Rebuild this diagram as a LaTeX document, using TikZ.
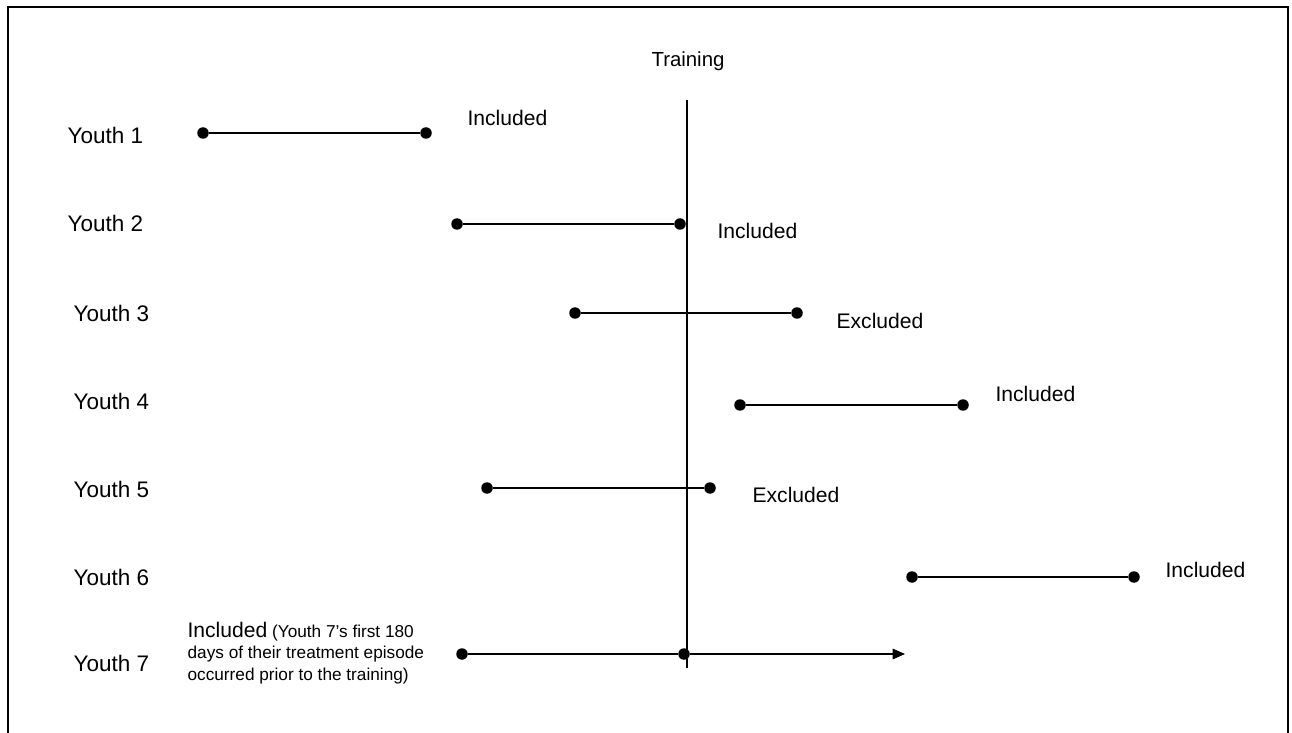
\documentclass[tikz,border=0pt]{standalone}
\usepackage{fontspec}
\setmainfont{Liberation Sans}
\usetikzlibrary{arrows.meta}
\tikzset{
  dot/.style={circle,fill=black,inner sep=0pt,minimum size=0.23cm},
  youth/.style={anchor=base west,inner sep=0pt,font=\fontsize{12.8}{15}\selectfont},
  verdict/.style={anchor=base west,inner sep=0pt,font=\fontsize{12}{14}\selectfont},
}
\begin{document}
\begin{tikzpicture}[x=0.02cm,y=-0.02cm,line width=0.7pt]
      \useasboundingbox (0,0) rectangle (1292,733);
      \draw[line width=1.2pt] (8,733) -- (8,7) -- (1288,7) -- (1288,733);
      % training line
      \node[anchor=base,inner sep=0pt,font=\fontsize{11.6}{14}\selectfont] (training) at (688,67) {Training};
      \coordinate (ttop) at (687,100);
      \coordinate (tbot) at (687,668);
      \draw (ttop) -- (tbot);
      % youth 1
      \node[youth] (y1) at (67,144) {Youth 1};
      \node[dot] (s1) at (203,133) {};
      \node[dot] (e1) at (426,133) {};
      \draw (s1) -- (e1);
      \node[verdict] (v1) at (467,126) {Included};
      % youth 2
      \node[youth] (y2) at (67,232) {Youth 2};
      \node[dot] (s2) at (457,224) {};
      \node[dot] (e2) at (680,224) {};
      \draw (s2) -- (e2);
      \node[verdict] (v2) at (717,239) {Included};
      % youth 3
      \node[youth] (y3) at (73,321) {Youth 3};
      \node[dot] (s3) at (575,313) {};
      \node[dot] (e3) at (797,313) {};
      \draw (s3) -- (e3);
      \node[verdict] (v3) at (836,329) {Excluded};
      % youth 4
      \node[youth] (y4) at (73,409) {Youth 4};
      \node[dot] (s4) at (740,405) {};
      \node[dot] (e4) at (963,405) {};
      \draw (s4) -- (e4);
      \node[verdict] (v4) at (995,401) {Included};
      % youth 5
      \node[youth] (y5) at (73,497) {Youth 5};
      \node[dot] (s5) at (487,488) {};
      \node[dot] (e5) at (710,488) {};
      \draw (s5) -- (e5);
      \node[verdict] (v5) at (752,502) {Excluded};
      % youth 6
      \node[youth] (y6) at (73,585) {Youth 6};
      \node[dot] (s6) at (912,577) {};
      \node[dot] (e6) at (1134,577) {};
      \draw (s6) -- (e6);
      \node[verdict] (v6) at (1165,577) {Included};
      % youth 7
      \node[youth] (y7) at (73,671) {Youth 7};
      \node[dot] (s7) at (462,654) {};
      \node[dot] (m7) at (684,654) {};
      \coordinate (a7) at (905,654);
      \draw (s7) -- (m7);
      \draw[-{Triangle[length=7pt,width=6pt]}] (m7) -- (a7);
      \node[verdict,align=left,font=\fontsize{9.8}{12.2}\selectfont] (v7) at (187,680)
        {{\fontsize{12}{14}\selectfont Included} (Youth 7’s first 180\\days of their treatment episode\\occurred prior to the training)};
\end{tikzpicture}
\end{document}
